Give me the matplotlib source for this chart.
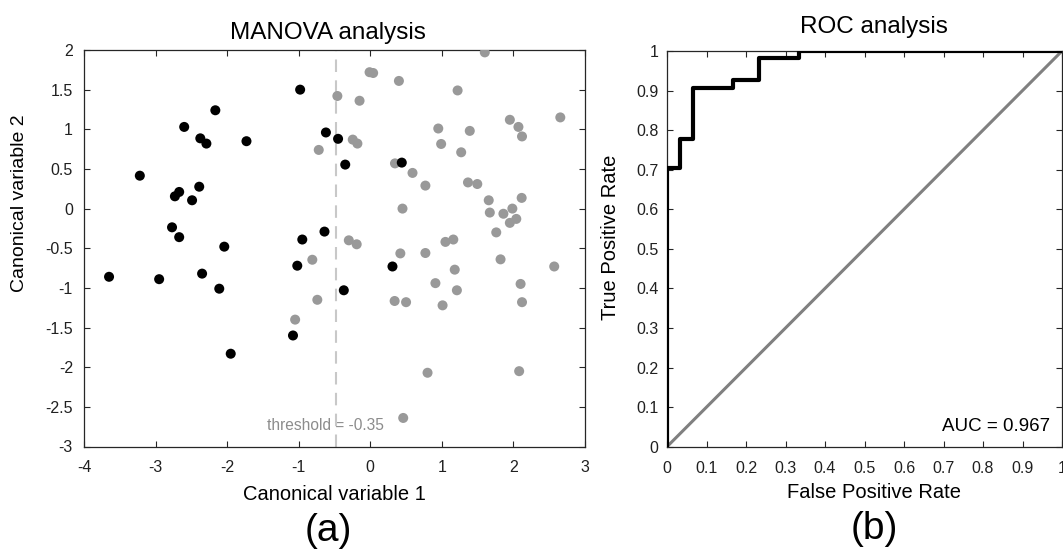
import matplotlib
matplotlib.use('Agg')
import matplotlib.pyplot as plt
import numpy as np

plt.rcParams['font.family'] = ['Liberation Sans', 'DejaVu Sans']

# group 1 (black) canonical scores
black_x = [-3.22, -2.60, -2.165, -2.375, -2.29, -1.73, -0.98, -0.62, -2.73, -2.67,
           -2.39, -2.49, -2.77, -2.67, -0.95, -0.64, -3.65, -2.95, -2.35, -2.04,
           -2.11, -1.95, -1.02, -1.08, -0.45, -0.35, 0.44, -0.37, 0.31]
black_y = [0.415, 1.03, 1.24, 0.886, 0.82, 0.85, 1.50, 0.96, 0.155, 0.21,
           0.276, 0.105, -0.236, -0.36, -0.39, -0.29, -0.86, -0.89, -0.82, -0.48,
           -1.01, -1.83, -0.72, -1.60, 0.88, 0.555, 0.58, -1.03, -0.73]

# group 2 (gray) canonical scores
gray_x = [-0.72, -0.81, -0.74, -1.05, -0.46, -0.15, -0.01, 0.04, 0.40, 1.60,
          1.22, 2.655, 1.95, 2.07, 2.12, 0.95, 1.39, 0.99, 1.27, -0.245,
          -0.18, 0.345, 0.59, 0.77, 1.365, 1.495, 1.655, 2.115, 1.985, 0.45,
          1.67, 1.86, 2.04, 1.95, 1.76, -0.30, -0.19, 0.42, 0.77, 1.05,
          1.16, 1.18, 0.91, 1.21, 0.34, 0.50, 1.01, 1.82, 2.57, 2.10,
          2.12, 0.80, 2.08, 0.46]
gray_y = [0.74, -0.645, -1.15, -1.40, 1.42, 1.36, 1.72, 1.71, 1.61, 1.97,
          1.49, 1.15, 1.12, 1.03, 0.91, 1.01, 0.98, 0.815, 0.71, 0.87,
          0.82, 0.57, 0.45, 0.29, 0.33, 0.31, 0.105, 0.135, 0.0, 0.0,
          -0.05, -0.065, -0.13, -0.18, -0.30, -0.40, -0.45, -0.565, -0.56, -0.42,
          -0.39, -0.77, -0.94, -1.03, -1.165, -1.18, -1.22, -0.64, -0.73, -0.95,
          -1.18, -2.07, -2.05, -2.64]

threshold_pos = -0.48

# ROC curve (step points)
fpr = [0, 0, 1/30, 2/30, 5/30, 7/30, 10/30, 1]
tpr = [0, 38/54, 42/54, 49/54, 50/54, 53/54, 1, 1]
auc = 0.967

W, H = 1063, 554
fig = plt.figure(figsize=(W / 100, H / 100), dpi=100)

spine_col = '#262626'

# ---- MANOVA panel ----
ax1 = fig.add_axes([84 / W, 1 - 446.5 / H, 501 / W, 396.5 / H])
ax1.scatter(gray_x, gray_y, s=52, color='#999999', edgecolors='none', zorder=3)
ax1.scatter(black_x, black_y, s=52, color='black', edgecolors='none', zorder=4)
ax1.axvline(threshold_pos, color='#c8c8c8', linestyle=(0, (6, 4)), linewidth=1.5, zorder=2)
ax1.text(-0.62, -2.73, 'threshold = -0.35', color='#8c8c8c', fontsize=11.2,
         ha='center', va='center', zorder=1)
ax1.set_xlim(-4, 3)
ax1.set_ylim(-3, 2)
ax1.set_xticks(np.arange(-4, 4, 1))
ax1.set_xticklabels(['-4', '-3', '-2', '-1', '0', '1', '2', '3'])
yt = np.arange(-3, 2.01, 0.5)
ax1.set_yticks(yt)
ax1.set_yticklabels(['-3', '-2.5', '-2', '-1.5', '-1', '-0.5', '0', '0.5', '1', '1.5', '2'])
ax1.set_xlabel('Canonical variable 1', fontsize=14.5)
ax1.xaxis.set_label_coords((334 - 84) / 501, (446.5 - 494) / 396.5)
ax1.set_ylabel('Canonical variable 2', fontsize=14)
ax1.yaxis.set_label_coords((20 - 84) / 501, (446.5 - 203) / 396.5)
ax1.xaxis.label.set_va('center')
ax1.yaxis.label.set_va('center')

# ---- ROC panel ----
ax2 = fig.add_axes([667 / W, 1 - 446.7 / H, 395 / W, 395.7 / H])
ax2.plot([0, 1], [0, 1], color='#808080', linewidth=2.2, zorder=2)
ax2.step(fpr, tpr, where='post', color='black', linewidth=3, zorder=3)
ax2.text(0.969, 0.052, 'AUC = %.3f' % auc, fontsize=13.5, ha='right', va='center')
ax2.set_xlim(0, 1)
ax2.set_ylim(0, 1)
ticks = np.arange(0, 1.01, 0.1)
labels = ['0'] + ['%.1f' % t for t in ticks[1:-1]] + ['1']
ax2.set_xticks(ticks)
ax2.set_xticklabels(labels)
ax2.set_yticks(ticks)
ax2.set_yticklabels(labels)
ax2.set_xlabel('False Positive Rate', fontsize=14.5)
ax2.xaxis.set_label_coords((874 - 667) / 395, (446.7 - 493) / 395.7)
ax2.set_ylabel('True Positive Rate', fontsize=14.5)
ax2.yaxis.set_label_coords((610 - 667) / 395, (446.7 - 237) / 395.7)
ax2.xaxis.label.set_va('center')
ax2.yaxis.label.set_va('center')

for ax in (ax1, ax2):
    ax.tick_params(direction='in', top=True, right=True, length=4, width=0.8,
                   labelsize=11.5, colors=spine_col, labelcolor='#202020')
    ax.tick_params(axis='x', pad=10)
    for sp in ax.spines.values():
        sp.set_color(spine_col)
        sp.set_linewidth(0.9)
ax1.tick_params(axis='y', pad=8)
ax2.tick_params(axis='y', pad=6)

fig.text(328 / W, 1 - 39 / H, 'MANOVA analysis', fontsize=17.5, ha='center', va='baseline')
fig.text(874 / W, 1 - 33 / H, 'ROC analysis', fontsize=17.5, ha='center', va='baseline')

fig.text(328 / W, 1 - 541 / H, '(a)', fontsize=28, ha='center', va='baseline')
fig.text(874 / W, 1 - 539 / H, '(b)', fontsize=28, ha='center', va='baseline')

fig.savefig('out.png', dpi=100)
